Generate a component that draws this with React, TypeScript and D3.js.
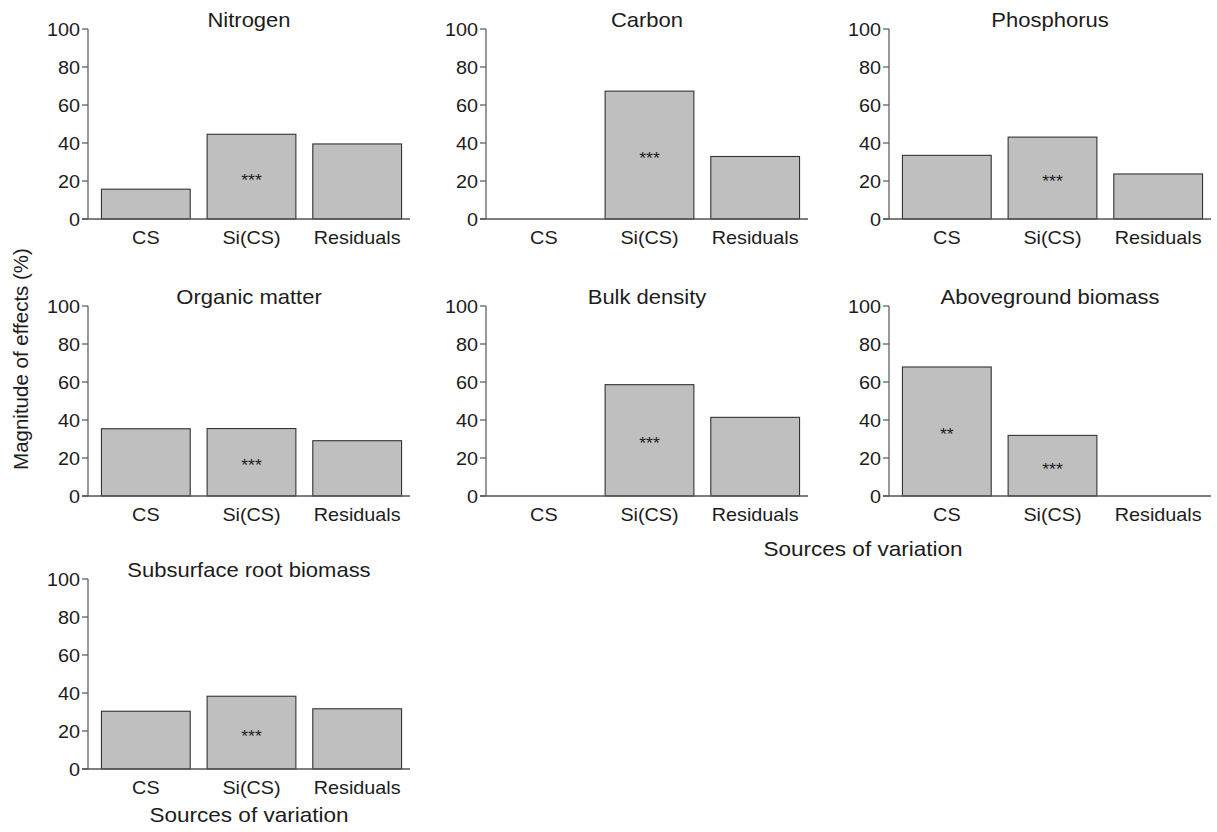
import { useEffect, useRef } from "react";
import * as d3 from "d3";

// categories shared by every panel
const CATEGORIES = ["CS", "Si(CS)", "Residuals"];
const Y_TICKS = [0, 20, 40, 60, 80, 100];

const TITLES = [
  "Nitrogen",
  "Carbon",
  "Phosphorus",
  "Organic matter",
  "Bulk density",
  "Aboveground biomass",
  "Subsurface root biomass",
];

// magnitude of effects (%) per source of variation
const NITROGEN = [15.7, 44.6, 39.5];
const CARBON = [0, 67.3, 32.9];
const PHOSPHORUS = [33.5, 43.1, 23.7];
const ORGANIC_MATTER = [35.4, 35.5, 29.1];
const BULK_DENSITY = [0, 58.6, 41.4];
const ABOVEGROUND = [67.9, 31.9, 0];
const SUBSURFACE_ROOT = [30.4, 38.3, 31.7];

// significance marks
const NITROGEN_SIG = ["", "***", ""];
const CARBON_SIG = ["", "***", ""];
const PHOSPHORUS_SIG = ["", "***", ""];
const ORGANIC_SIG = ["", "***", ""];
const BULK_SIG = ["", "***", ""];
const ABOVEGROUND_SIG = ["**", "***", ""];
const SUBSURFACE_SIG = ["", "***", ""];

const SERIES = [NITROGEN, CARBON, PHOSPHORUS, ORGANIC_MATTER, BULK_DENSITY, ABOVEGROUND, SUBSURFACE_ROOT];
const SIGS = [NITROGEN_SIG, CARBON_SIG, PHOSPHORUS_SIG, ORGANIC_SIG, BULK_SIG, ABOVEGROUND_SIG, SUBSURFACE_SIG];

const W = 1217;
const H = 832;
const FONT = "'Liberation Sans', Arial, Helvetica, sans-serif";
const SX = 1.1; // the source figure is slightly stretched horizontally
const INK = "#1c1c1c";
const AXIS = "#555";

const COL_X = [88, 486, 889];
const ROW_Y = [29, 306, 579];
const PANEL_W = 322;
const PANEL_H = 190;

export default function App() {
  const svgRef = useRef<SVGSVGElement | null>(null);

  useEffect(() => {
    if (!svgRef.current) return;
    const root = d3.select(svgRef.current);
    root.selectAll("*").remove();

    const text = (
      g: any,
      x: number,
      y: number,
      s: string,
      size: number,
      anchor = "middle",
      sx = SX
    ) =>
      g
        .append("text")
        .attr("transform", `translate(${x},${y}) scale(${sx},1)`)
        .attr("text-anchor", anchor)
        .attr("font-family", FONT)
        .attr("font-size", size)
        .attr("fill", INK)
        .text(s);

    SERIES.forEach((values, i) => {
      const col = i % 3;
      const row = Math.floor(i / 3);
      const x0 = COL_X[col];
      const y100 = ROW_Y[row];

      const y = d3.scaleLinear().domain([0, 100]).range([y100 + PANEL_H, y100]);
      const x = d3
        .scaleBand<string>()
        .domain(CATEGORIES)
        .range([x0 + 5, x0 + PANEL_W])
        .paddingInner(0.16)
        .paddingOuter(0.08);

      const g = root.append("g");

      // bars
      CATEGORIES.forEach((c, j) => {
        const v = values[j];
        if (v <= 0) return;
        g.append("rect")
          .attr("x", x(c)!)
          .attr("y", y(v))
          .attr("width", x.bandwidth())
          .attr("height", y(0) - y(v))
          .attr("fill", "#bfbfbf")
          .attr("stroke", "#333")
          .attr("stroke-width", 1.1);
        const sig = SIGS[i][j];
        if (sig) {
          text(g, x(c)! + x.bandwidth() / 2, y(v / 2) + 9, sig, 16);
        }
      });

      // y axis
      g.append("line")
        .attr("x1", x0)
        .attr("x2", x0)
        .attr("y1", y(100))
        .attr("y2", y(0))
        .attr("stroke", AXIS)
        .attr("stroke-width", 1.2);
      Y_TICKS.forEach((t) => {
        g.append("line")
          .attr("x1", x0 - 6)
          .attr("x2", x0)
          .attr("y1", y(t))
          .attr("y2", y(t))
          .attr("stroke", AXIS)
          .attr("stroke-width", 1.2);
        text(g, x0 - 8, y(t) + 6.5, String(t), 18, "end");
      });

      // x axis
      g.append("line")
        .attr("x1", x0 - 6)
        .attr("x2", x0 + PANEL_W)
        .attr("y1", y(0))
        .attr("y2", y(0))
        .attr("stroke", AXIS)
        .attr("stroke-width", 1.4);
      CATEGORIES.forEach((c) => {
        text(g, x(c)! + x.bandwidth() / 2, y(0) + 24.5, c, 18);
      });

      // panel title
      text(g, x0 + PANEL_W / 2, y100 - 2, TITLES[i], 20);
    });

    // shared axis titles
    text(root, COL_X[0] + PANEL_W / 2, ROW_Y[2] + PANEL_H + 53, "Sources of variation", 20.5);
    text(root, 863, ROW_Y[1] + PANEL_H + 60, "Sources of variation", 20.5);

    root
      .append("text")
      .attr("transform", "translate(28,359) rotate(-90)")
      .attr("text-anchor", "middle")
      .attr("font-family", FONT)
      .attr("font-size", 20.5)
      .attr("fill", INK)
      .text("Magnitude of effects (%)");
  }, []);

  return (
    <div style={{ position: "absolute", left: 0, top: 0, width: W, height: H, background: "#fff" }}>
      <svg ref={svgRef} width={W} height={H} viewBox={`0 0 ${W} ${H}`} style={{ display: "block" }} />
    </div>
  );
}
